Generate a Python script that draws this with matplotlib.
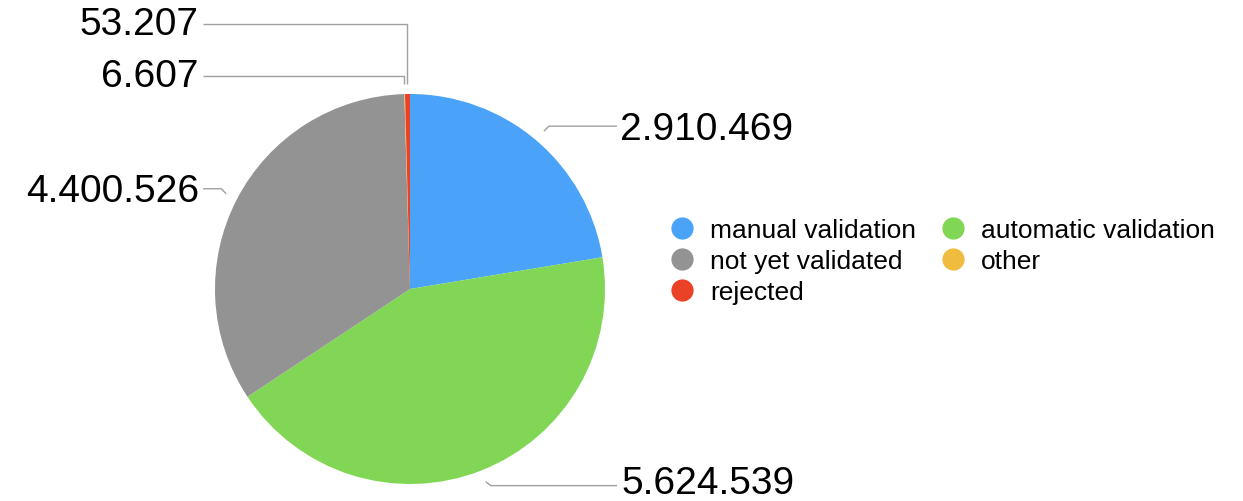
import numpy as np
import matplotlib
matplotlib.use("Agg")
import matplotlib.pyplot as plt

# ---- data ----
categories = ["manual validation", "automatic validation", "not yet validated", "other", "rejected"]
values = [2910469, 5624539, 4400526, 6607, 53207]
value_labels = ["2.910.469", "5.624.539", "4.400.526", "6.607", "53.207"]
colors = ["#4aa3f8", "#82d656", "#939393", "#f0bc40", "#eb4227"]

W, H = 1243, 502
plt.rcParams['font.family'] = ['Liberation Sans', 'DejaVu Sans']

fig = plt.figure(figsize=(W / 100, H / 100), dpi=100)
ax = fig.add_axes([0, 0, 1, 1])

cx, cy, R = 410, 290, 195  # pixel coords (y down)
ax.pie(values, colors=colors, startangle=90, counterclock=False,
       center=(cx, H - cy), radius=R)
ax.set_xlim(0, W)
ax.set_ylim(0, H)
ax.set_aspect('equal')
ax.axis('off')

def P(x, y):
    return x, H - y

# mid angles (clockwise from top, degrees)
total = float(sum(values))
cum = np.cumsum([0] + values)
mids = [(cum[i] + cum[i + 1]) / 2 / total * 360 for i in range(len(values))]

line_kw = dict(color="#a0a0a0", lw=1.0, solid_capstyle='butt')
fs = 28

def anchor(i, r):
    a = np.deg2rad(mids[i])
    return cx + r * np.sin(a), cy - r * np.cos(a)

# manual validation (right, upper)
sx, sy = anchor(0, 207)
ex, ey = sx + 5, sy - 5
xs = [sx, ex, 617]; ys = [sy, ey, ey]
ax.plot(xs, [H - y for y in ys], **line_kw)
ax.text(*P(620, ey + 3), value_labels[0], fontsize=fs, ha='left', va='center')

# automatic validation (right, lower)
sx, sy = anchor(1, 207)
ex, ey = sx + 5, sy + 4
xs = [sx, ex, 617]; ys = [sy, ey, ey]
ax.plot(xs, [H - y for y in ys], **line_kw)
ax.text(*P(621, ey - 3), value_labels[1], fontsize=fs, ha='left', va='center')

# not yet validated (left)
sx, sy = anchor(2, 207)
ex, ey = sx - 5, sy - 5
xs = [sx, ex, 203]; ys = [sy, ey, ey]
ax.plot(xs, [H - y for y in ys], **line_kw)
ax.text(*P(199, ey + 2), value_labels[2], fontsize=fs, ha='right', va='center')

# other & rejected (top, small)
for i, ly in [(3, 77), (4, 25)]:
    sx, sy = anchor(i, 205)
    xs = [sx, sx, 203]; ys = [sy, ly, ly]
    ax.plot(xs, [H - y for y in ys], **line_kw)
    ax.text(*P(198, ly), value_labels[i], fontsize=fs, ha='right', va='center')

# legend (2 columns, row-major)
for k, (lab, col) in enumerate(zip(categories, colors)):
    row, c = divmod(k, 2)
    mx = 682 + c * 271
    my = 229 + row * 31
    ax.plot([mx], [H - my], marker='o', ms=16, color=col, mec='none', ls='none')
    ax.text(*P(mx + 28, my + 2), lab, fontsize=19, ha='left', va='center')

fig.savefig("out.png", dpi=100)
